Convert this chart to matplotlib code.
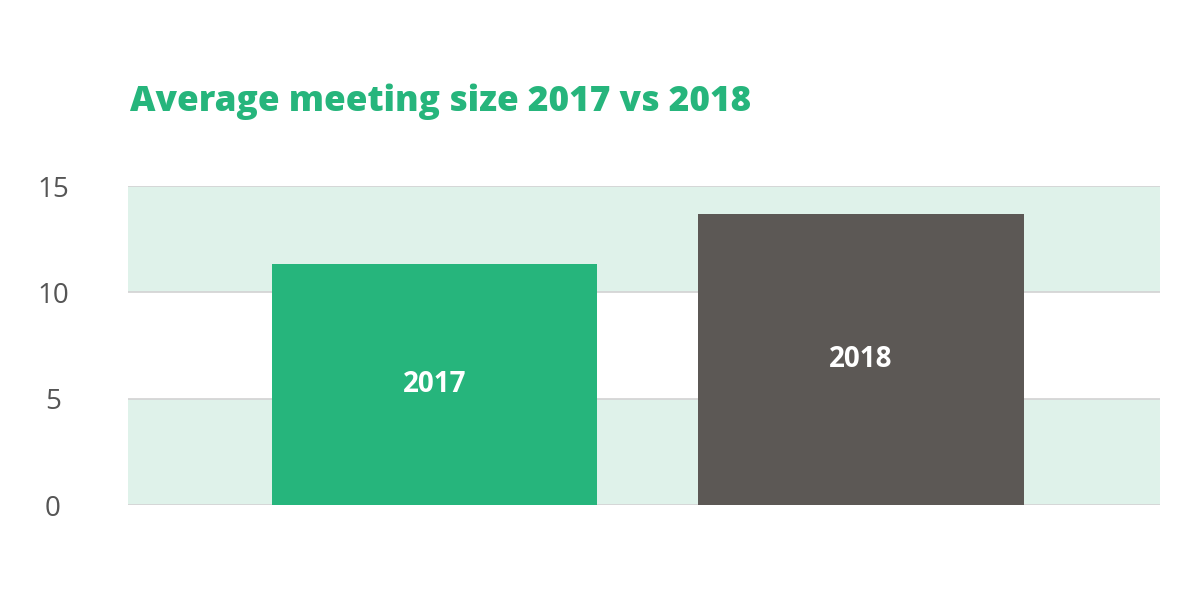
import matplotlib
matplotlib.use("Agg")
import matplotlib.pyplot as plt

categories = ["2017", "2018"]
values = [11.35, 13.7]
bar_colors = ["#26B57C", "#5C5855"]
yticks = [0, 5, 10, 15]
title = "Average meeting size 2017 vs 2018"

fig = plt.figure(figsize=(12, 6), dpi=100)
ax = fig.add_axes([0.1067, 0.1583, 0.86, 0.5317])

# alternating bands
ax.axhspan(0, 5, color="#DFF2EA", zorder=0, lw=0)
ax.axhspan(10, 15, color="#DFF2EA", zorder=0, lw=0)
for t in yticks:
    ax.axhline(t, color="#D5D5D5", lw=1.3, zorder=1)

x = list(range(len(categories)))
bars = ax.bar(x, values, width=0.762, color=bar_colors, zorder=2)
for xi, v, c in zip(x, values, categories):
    ax.text(xi, v / 2, c, ha="center", va="center", color="white",
            fontsize=20, fontweight="bold", family="Open Sans", zorder=3)

ax.set_xlim(-0.718, 1.701)
ax.set_ylim(0, 15)
ax.set_yticks(yticks)
ax.set_yticklabels([str(t) for t in yticks], family="Open Sans", fontsize=20, color="#555555")
for lab in ax.get_yticklabels():
    lab.set_horizontalalignment("center")
ax.tick_params(axis="y", length=0, pad=54)
ax.set_xticks([])
for s in ax.spines.values():
    s.set_visible(False)

fig.text(130 / 1200, 1 - 102 / 600, title, ha="left", va="center",
         fontsize=25.3, fontweight="heavy", family="Open Sans", color="#26B57C")

fig.savefig("out.png", dpi=100, facecolor="white")
